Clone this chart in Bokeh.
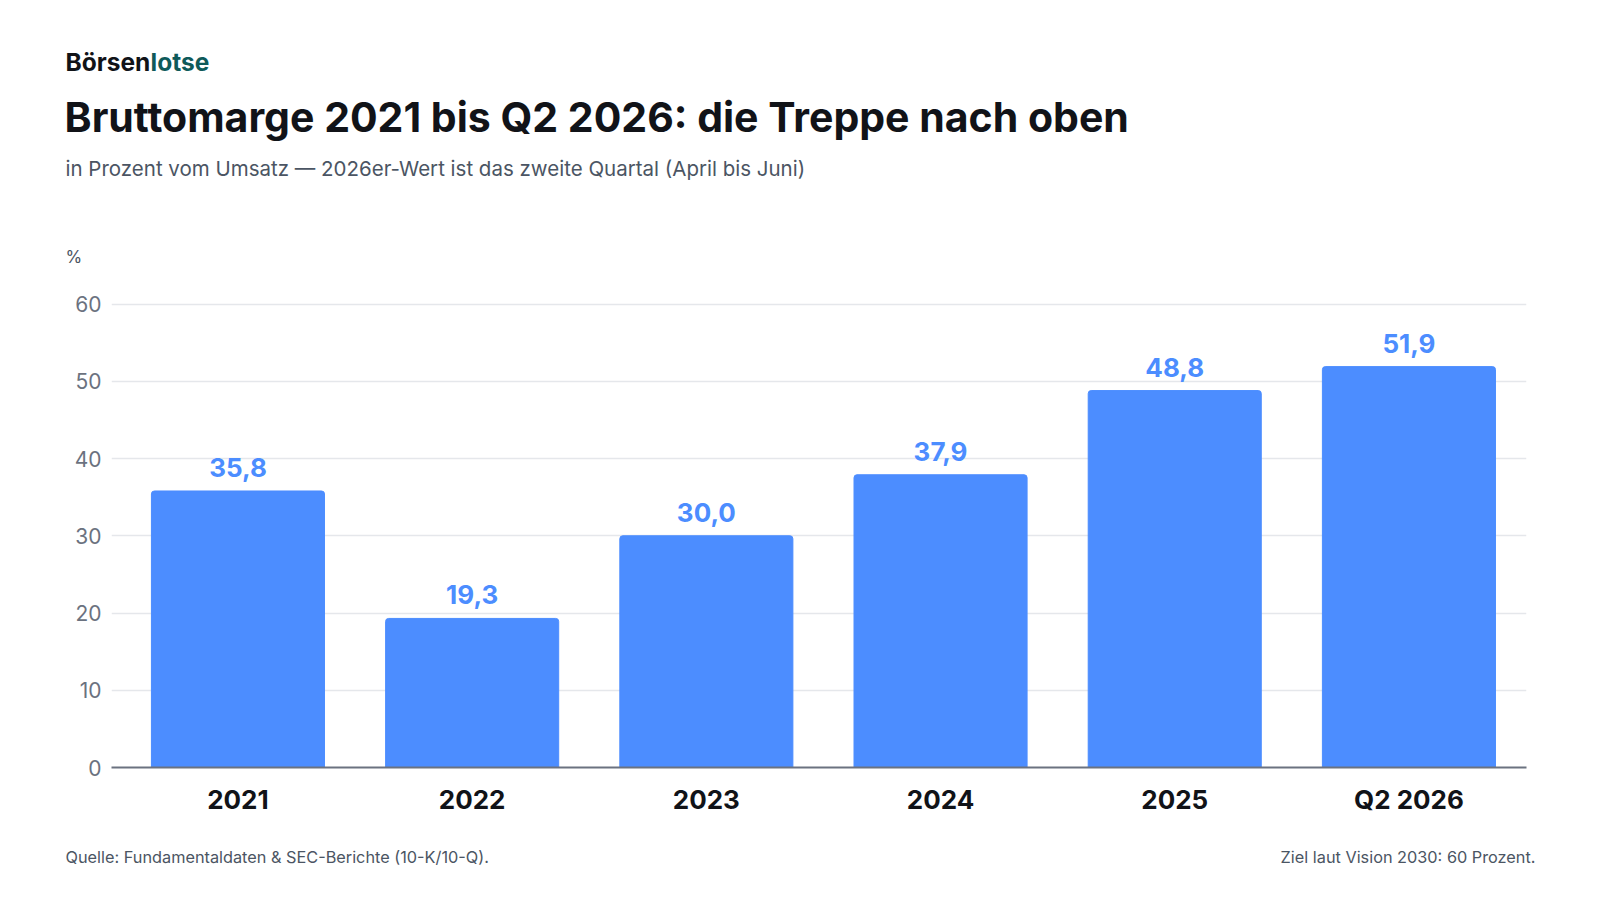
from bokeh.plotting import figure
from bokeh.models import ColumnDataSource, LabelSet, Range1d, FixedTicker
from bokeh.core.properties import value
from bokeh.embed import file_html
from bokeh.resources import INLINE

# data
categories = ['2021', '2022', '2023', '2024', '2025', 'Q2 2026']
margin = [35.8, 19.3, 30.0, 37.9, 48.8, 51.9]
y_ticks = [0, 10, 20, 30, 40, 50, 60]

FONT = "Inter"
BLUE = "#4C8DFF"
GRAY = "#6B7280"
SLATE = "#4B5563"
INK = "#111318"
TEAL = "#0E5A5A"
W = 1584


def text_panel(height):
    # blank strip, x and y in canvas pixels, y running downwards
    f = figure(width=W, height=height, x_range=Range1d(0, W), y_range=Range1d(height, 0),
               x_axis_type=None, y_axis_type=None, output_backend="svg",
               toolbar_location=None, min_border=0)
    f.outline_line_color = None
    f.grid.grid_line_color = None
    return f


def put(f, x, y, s, size, color, style="normal", align="left"):
    # y is the wanted baseline; the glyph sits about 0.37em lower
    f.text(x=[x], y=[y - 0.37 * size], text=[s], text_font=value(FONT),
           text_font_size="%spx" % size, text_font_style=style, text_color=color,
           text_align=align, text_baseline="alphabetic")


# header
head = text_panel(275)
put(head, 65, 71, "Börsen", 24.5, INK, "bold")
put(head, 150, 71, "lotse", 24.5, TEAL, "bold")
put(head, 64, 132, "Bruttomarge 2021 bis Q2 2026: die Treppe nach oben", 41, INK, "bold")
put(head, 65, 176, "in Prozent vom Umsatz \u2014 2026er-Wert ist das zweite Quartal (April bis Juni)",
    20.5, SLATE)
put(head, 65, 263, "%", 17, SLATE)

# chart, categories placed at 0..5 on the x scale
xs = list(range(len(categories)))
labels = [("%.1f" % v).replace(".", ",") for v in margin]
source = ColumnDataSource({'x': xs, 'val': margin, 'txt': labels})

p = figure(x_range=Range1d(-0.54, len(categories) - 0.498),
           y_range=Range1d(0, 60.2),
           width=W, height=544, output_backend="svg", toolbar_location=None,
           min_border_left=111, min_border_right=W - 1526,
           min_border_top=27, min_border_bottom=52)
p.outline_line_color = None

p.vbar(x='x', top='val', width=0.739, source=source, color=BLUE,
       border_radius=(3, 3, 0, 0))

p.add_layout(LabelSet(x='x', y='val', text='txt', source=source, y_offset=14,
                      text_align="center", text_baseline="alphabetic",
                      text_font=value(FONT), text_font_size="26px", text_font_style="bold",
                      text_color=BLUE))

p.xgrid.grid_line_color = None
p.ygrid.grid_line_color = "#E5E7EB"
p.ygrid.grid_line_width = 1.5
p.yaxis.ticker = FixedTicker(ticks=y_ticks)
p.yaxis.axis_line_color = None
p.yaxis.major_tick_line_color = None
p.yaxis.minor_tick_line_color = None
p.yaxis.major_label_standoff = 4
p.yaxis.major_label_text_font = FONT
p.yaxis.major_label_text_font_size = "21px"
p.yaxis.major_label_text_color = GRAY

p.xaxis.ticker = FixedTicker(ticks=xs)
p.xaxis.major_label_overrides = {i: c for i, c in zip(xs, categories)}
p.xaxis.axis_line_color = GRAY
p.xaxis.axis_line_width = 2
p.xaxis.major_tick_line_color = None
p.xaxis.minor_tick_line_color = None
p.xaxis.major_label_standoff = 10
p.xaxis.major_label_text_font = FONT
p.xaxis.major_label_text_font_size = "26px"
p.xaxis.major_label_text_font_style = "bold"
p.xaxis.major_label_text_color = INK

# footer
foot = text_panel(65)
put(foot, 65, 44, "Quelle: Fundamentaldaten & SEC-Berichte (10-K/10-Q).", 16.3, SLATE)
put(foot, 1535, 44, "Ziel laut Vision 2030: 60 Prozent.", 16.3, SLATE, align="right")

# three separate roots, stacked by the page itself
open("out.html", "w").write(file_html([head, p, foot], INLINE))
